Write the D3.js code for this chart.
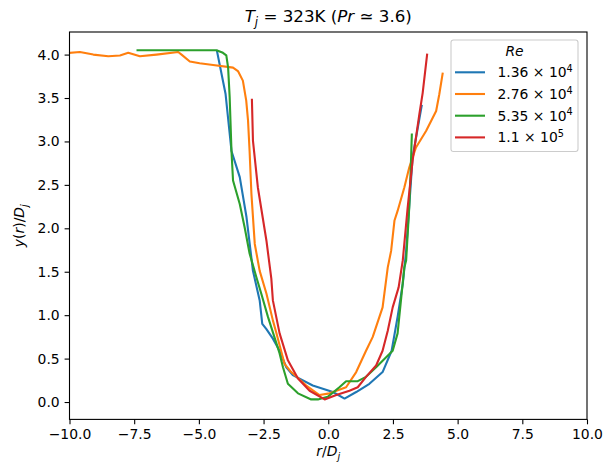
<!DOCTYPE html>
<html>
<head>
<meta charset="utf-8">
<script src="https://cdn.jsdelivr.net/npm/d3@7"></script>
<style>
  body { margin: 0; background: #fff; }
  text { font-family: "DejaVu Sans", sans-serif; }
</style>
</head>
<body>
<div id="chart"></div>
<script>

// data (r/Dj, y/Dj)
const reBase = ["1.36", "2.76", "5.35", "1.1"]
const reExp = ["4", "4", "4", "5"]
const colors = ["#1f77b4", "#ff7f0e", "#2ca02c", "#d62728"]

const r1 = [-4.30, -3.97, -3.74, -3.42, -3.16, -2.91, -2.65, -2.55, -2.39, -2.14, -1.88, -1.62, -1.37, -0.60, 0.18, 0.63, 1.08, 1.59, 2.10, 2.45, 2.68, 2.88, 3.01, 3.26, 3.61]
const y1 = [4.04, 3.55, 2.89, 2.59, 2.13, 1.51, 1.17, 0.90, 0.84, 0.73, 0.59, 0.40, 0.31, 0.19, 0.115, 0.04, 0.115, 0.21, 0.345, 0.59, 0.98, 1.36, 1.74, 2.82, 3.41]

const r2 = [-9.98, -9.6, -9.08, -8.5, -8.05, -7.73, -7.28, -6.64, -5.8, -5.67, -5.35, -4.97, -4.45, -3.68, -3.49, -3.30, -3.17, -3.10, -3.04, -2.97, -2.84, -2.65, -2.39, -2.14, -2.01, -1.69, -1.43, -0.85, -0.34, 0.05, 0.69, 1.08, 1.46, 1.72, 2.10, 2.30, 2.43, 2.56, 2.68, 2.94, 3.13, 3.39, 3.78, 4.17, 4.29, 4.42]
const y2 = [4.02, 4.03, 4.00, 3.98, 3.99, 4.02, 3.98, 4.00, 4.03, 4.00, 3.92, 3.90, 3.88, 3.85, 3.81, 3.70, 3.47, 3.24, 2.89, 2.40, 1.82, 1.51, 1.25, 0.94, 0.80, 0.44, 0.345, 0.19, 0.08, 0.10, 0.17, 0.345, 0.59, 0.75, 1.09, 1.55, 1.74, 2.09, 2.20, 2.47, 2.70, 2.93, 3.12, 3.35, 3.54, 3.78]

const r3 = [-7.37, -4.32, -4.07, -3.94, -3.87, -3.81, -3.74, -3.68, -3.42, -3.23, -3.04, -2.78, -2.59, -2.33, -1.88, -1.75, -1.56, -1.17, -0.66, -0.40, -0.02, 0.43, 0.69, 1.14, 1.46, 1.85, 2.49, 2.68, 2.81, 2.94, 3.01, 3.13, 3.19, 3.23]
const y3 = [4.05, 4.05, 4.02, 3.99, 3.85, 3.51, 2.89, 2.55, 2.28, 2.01, 1.71, 1.44, 1.25, 0.98, 0.56, 0.40, 0.21, 0.10, 0.03, 0.03, 0.06, 0.17, 0.24, 0.24, 0.29, 0.40, 0.59, 0.79, 1.17, 1.55, 1.63, 2.24, 2.70, 3.08]

const r4 = [-2.95, -2.91, -2.72, -2.39, -2.20, -2.14, -1.88, -1.56, -1.17, -0.72, -0.14, 0.31, 0.82, 1.14, 1.46, 1.85, 2.10, 2.30, 2.49, 2.72, 2.88, 3.07, 3.26, 3.52, 3.65, 3.82]
const y4 = [3.48, 3.01, 2.47, 1.86, 1.42, 1.17, 0.79, 0.48, 0.27, 0.13, 0.03, 0.08, 0.13, 0.17, 0.29, 0.42, 0.59, 0.82, 1.09, 1.32, 1.63, 2.24, 2.78, 3.31, 3.56, 4.00]

const xTicks = [-10, -7.5, -5, -2.5, 0, 2.5, 5, 7.5, 10]
const yTicks = [0, 0.5, 1, 1.5, 2, 2.5, 3, 3.5, 4]

function drawChart() {

  const series = [[r1, y1], [r2, y2], [r3, y3], [r4, y4]].map(([rs, ys], i) => ({
    color: colors[i],
    points: rs.map((r, j) => ({ r: r, y: ys[j] }))
  }))

  let dimensions = {
    width: 604,
    height: 465,
    margin: { top: 32, right: 17, bottom: 45.6, left: 69.5 },
  }
  dimensions.boundedWidth = dimensions.width - dimensions.margin.left - dimensions.margin.right
  dimensions.boundedHeight = dimensions.height - dimensions.margin.top - dimensions.margin.bottom

  const wrapper = d3.select("#chart")
    .append("svg")
      .attr("width", dimensions.width)
      .attr("height", dimensions.height)

  const bounds = wrapper.append("g")
    .attr("transform", `translate(${dimensions.margin.left},${dimensions.margin.top})`)

  const xScale = d3.scaleLinear()
    .domain([-10, 10])
    .range([0, dimensions.boundedWidth])

  const yScale = d3.scaleLinear()
    .domain([-0.2, 4.26])
    .range([dimensions.boundedHeight, 0])

  // lines
  const lineGenerator = d3.line()
    .x(d => xScale(d.r))
    .y(d => yScale(d.y))

  bounds.selectAll(".series")
    .data(series)
    .join("path")
      .attr("class", "series")
      .attr("d", d => lineGenerator(d.points))
      .attr("fill", "none")
      .attr("stroke", d => d.color)
      .attr("stroke-width", 2.1)
      .attr("stroke-linejoin", "round")
      .attr("stroke-linecap", "square")

  // axes
  const xAxis = bounds.append("g")
    .attr("transform", `translate(0,${dimensions.boundedHeight})`)
    .call(d3.axisBottom(xScale).tickValues(xTicks).tickFormat(d3.format(".1f")).tickSizeInner(4.9).tickSizeOuter(0).tickPadding(4.9))

  const yAxis = bounds.append("g")
    .call(d3.axisLeft(yScale).tickValues(yTicks).tickFormat(d3.format(".1f")).tickSizeInner(4.9).tickSizeOuter(0).tickPadding(4.9))

  ;[xAxis, yAxis].forEach(ax => {
    ax.select(".domain").remove()
    ax.selectAll(".tick line").attr("stroke", "#000").attr("stroke-width", 1.1)
    ax.selectAll(".tick text").attr("fill", "#000").style("font-size", "13.9px").style("font-family", "DejaVu Sans")
  })

  // frame
  bounds.append("rect")
    .attr("width", dimensions.boundedWidth)
    .attr("height", dimensions.boundedHeight)
    .attr("fill", "none")
    .attr("stroke", "#000")
    .attr("stroke-width", 1.1)

  // title
  const title = wrapper.append("text")
    .attr("x", dimensions.margin.left + dimensions.boundedWidth / 2)
    .attr("y", 22)
    .attr("text-anchor", "middle")
    .style("font-size", "16.7px")
  title.append("tspan").attr("font-style", "italic").text("T")
  title.append("tspan").attr("font-style", "italic").attr("dy", 4).style("font-size", "11.7px").text("j")
  title.append("tspan").attr("dy", -4).text(" = 323K (")
  title.append("tspan").attr("font-style", "italic").text("Pr")
  title.append("tspan").text(" \u2243 3.6)")

  // x label
  const xLabel = wrapper.append("text")
    .attr("x", dimensions.margin.left + dimensions.boundedWidth / 2)
    .attr("y", 456)
    .attr("text-anchor", "middle")
    .style("font-size", "13.9px")
  xLabel.append("tspan").attr("font-style", "italic").text("r")
  xLabel.append("tspan").text("/")
  xLabel.append("tspan").attr("font-style", "italic").text("D")
  xLabel.append("tspan").attr("font-style", "italic").attr("dy", 3.5).style("font-size", "9.7px").text("j")

  // y label
  const yLabel = wrapper.append("text")
    .attr("transform", `translate(24,${dimensions.margin.top + dimensions.boundedHeight / 2}) rotate(-90)`)
    .attr("text-anchor", "middle")
    .style("font-size", "13.9px")
  yLabel.append("tspan").attr("font-style", "italic").text("y")
  yLabel.append("tspan").text("(")
  yLabel.append("tspan").attr("font-style", "italic").text("r")
  yLabel.append("tspan").text(")/")
  yLabel.append("tspan").attr("font-style", "italic").text("D")
  yLabel.append("tspan").attr("font-style", "italic").attr("dy", 3.5).style("font-size", "9.7px").text("j")

  // legend
  const legend = wrapper.append("g")
    .attr("transform", "translate(451,40)")

  legend.append("rect")
    .attr("width", 127)
    .attr("height", 111.5)
    .attr("rx", 2.5)
    .attr("fill", "#fff")
    .attr("fill-opacity", 0.8)
    .attr("stroke", "#ccc")
    .attr("stroke-width", 1.1)

  legend.append("text")
    .attr("x", 63.5)
    .attr("y", 15.5)
    .attr("text-anchor", "middle")
    .attr("font-style", "italic")
    .style("font-size", "13.9px")
    .text("Re")

  const rows = legend.selectAll(".row")
    .data(series)
    .join("g")
      .attr("class", "row")
      .attr("transform", (d, i) => `translate(0,${32.3 + i * 21.7})`)

  rows.append("line")
    .attr("x1", 4)
    .attr("x2", 34)
    .attr("stroke", d => d.color)
    .attr("stroke-width", 2.1)

  const labels = rows.append("text")
    .attr("x", 46.5)
    .attr("y", 5)
    .style("font-size", "13.9px")
  labels.append("tspan").text((d, i) => `${reBase[i]} \u00d7 10`)
  labels.append("tspan").attr("dy", -5.5).style("font-size", "9.7px").text((d, i) => reExp[i])
}

drawChart()
</script>
</body>
</html>
